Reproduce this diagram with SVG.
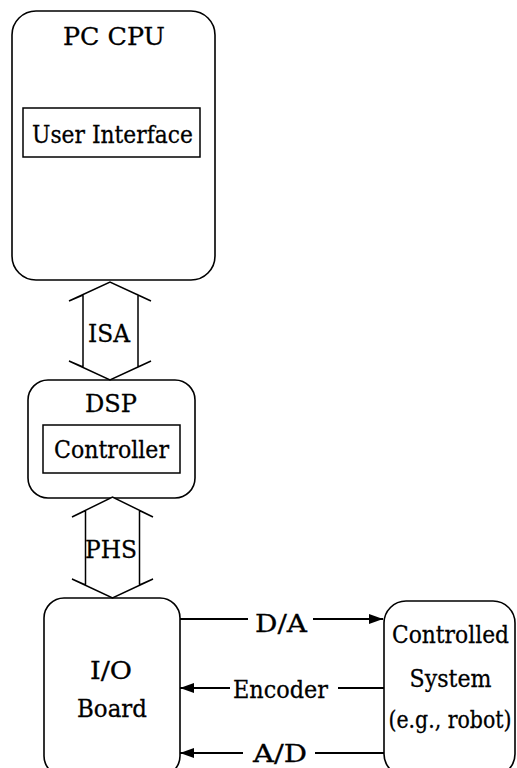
<svg xmlns="http://www.w3.org/2000/svg" width="517" height="768" viewBox="0 0 517 768">
<defs>
<style>
.box{fill:none;stroke:#000;stroke-width:1.6}
.in{fill:none;stroke:#000;stroke-width:1.5}
.bus{fill:#fff;stroke:#000;stroke-width:1.5;stroke-linejoin:miter}
.ln{fill:none;stroke:#000;stroke-width:2}
.t{font-family:'DejaVu Serif','Liberation Serif',serif;font-size:25px;fill:#000;stroke:#000;stroke-width:0.3;text-anchor:middle}
</style>
<marker id="ah" viewBox="0 0 14 10" refX="14" refY="5" markerWidth="14" markerHeight="10" markerUnits="userSpaceOnUse" orient="auto">
<path d="M0,0 L14,5 L0,10 Z" fill="#000"/>
</marker>
</defs>
<rect width="517" height="768" fill="#fff"/>
<g id="pc-cpu">
<rect class="box" x="12" y="11" width="203" height="269" rx="24"/>
<text class="t" x="114" y="45" textLength="102" lengthAdjust="spacingAndGlyphs">PC CPU</text>
<rect class="in" x="23" y="108" width="177" height="49"/>
<text class="t" x="112.5" y="143" textLength="161" lengthAdjust="spacingAndGlyphs">User Interface</text>
</g>
<g id="dsp">
<rect class="box" x="28" y="380" width="167" height="118" rx="20"/>
<text class="t" x="111" y="412" textLength="52" lengthAdjust="spacingAndGlyphs">DSP</text>
<rect class="in" x="43" y="425" width="137" height="48"/>
<text class="t" x="111.5" y="458" textLength="115" lengthAdjust="spacingAndGlyphs">Controller</text>
</g>
<g id="io-board">
<rect class="box" x="44" y="598" width="136" height="178" rx="20"/>
<text class="t" x="111" y="679" textLength="42" lengthAdjust="spacingAndGlyphs">I/O</text>
<text class="t" x="112" y="717" textLength="70" lengthAdjust="spacingAndGlyphs">Board</text>
</g>
<g id="controlled-system">
<rect class="box" x="384" y="601" width="131" height="175" rx="22"/>
<text class="t" x="450.5" y="643" textLength="117" lengthAdjust="spacingAndGlyphs">Controlled</text>
<text class="t" x="450.5" y="687" textLength="82" lengthAdjust="spacingAndGlyphs">System</text>
<text class="t" x="450" y="728" textLength="123" lengthAdjust="spacingAndGlyphs">(e.g., robot)</text>
</g>
<g id="connectors">
<g id="isa">
<path class="bus" d="M69,301 L110,282 L151,301 L138,295 L138,367 L151,361 L110,380 L69,361 L83,367 L83,295 Z"/>
<text class="t" x="109" y="342" textLength="42" lengthAdjust="spacingAndGlyphs">ISA</text>
</g>
<g id="phs">
<path class="bus" d="M72,517 L112.5,497 L153,517 L139.5,510.5 L139.5,585 L153,579 L112.5,598 L72,579 L85.5,585 L85.5,510.5 Z"/>
<text class="t" x="111" y="558" textLength="52" lengthAdjust="spacingAndGlyphs">PHS</text>
</g>
<g id="da">
<line class="ln" x1="180" y1="619" x2="248" y2="619"/>
<line class="ln" x1="313" y1="619" x2="383" y2="619" marker-end="url(#ah)"/>
<text class="t" x="281" y="632" textLength="52" lengthAdjust="spacingAndGlyphs">D/A</text>
</g>
<g id="encoder">
<line class="ln" x1="384" y1="688" x2="338" y2="688"/>
<line class="ln" x1="230" y1="688" x2="180" y2="688" marker-end="url(#ah)"/>
<text class="t" x="280.5" y="698" textLength="95" lengthAdjust="spacingAndGlyphs">Encoder</text>
</g>
<g id="ad">
<line class="ln" x1="384" y1="753" x2="315" y2="753"/>
<line class="ln" x1="243" y1="753" x2="180" y2="753" marker-end="url(#ah)"/>
<text class="t" x="280" y="762" textLength="54" lengthAdjust="spacingAndGlyphs">A/D</text>
</g>
</g>
</svg>
